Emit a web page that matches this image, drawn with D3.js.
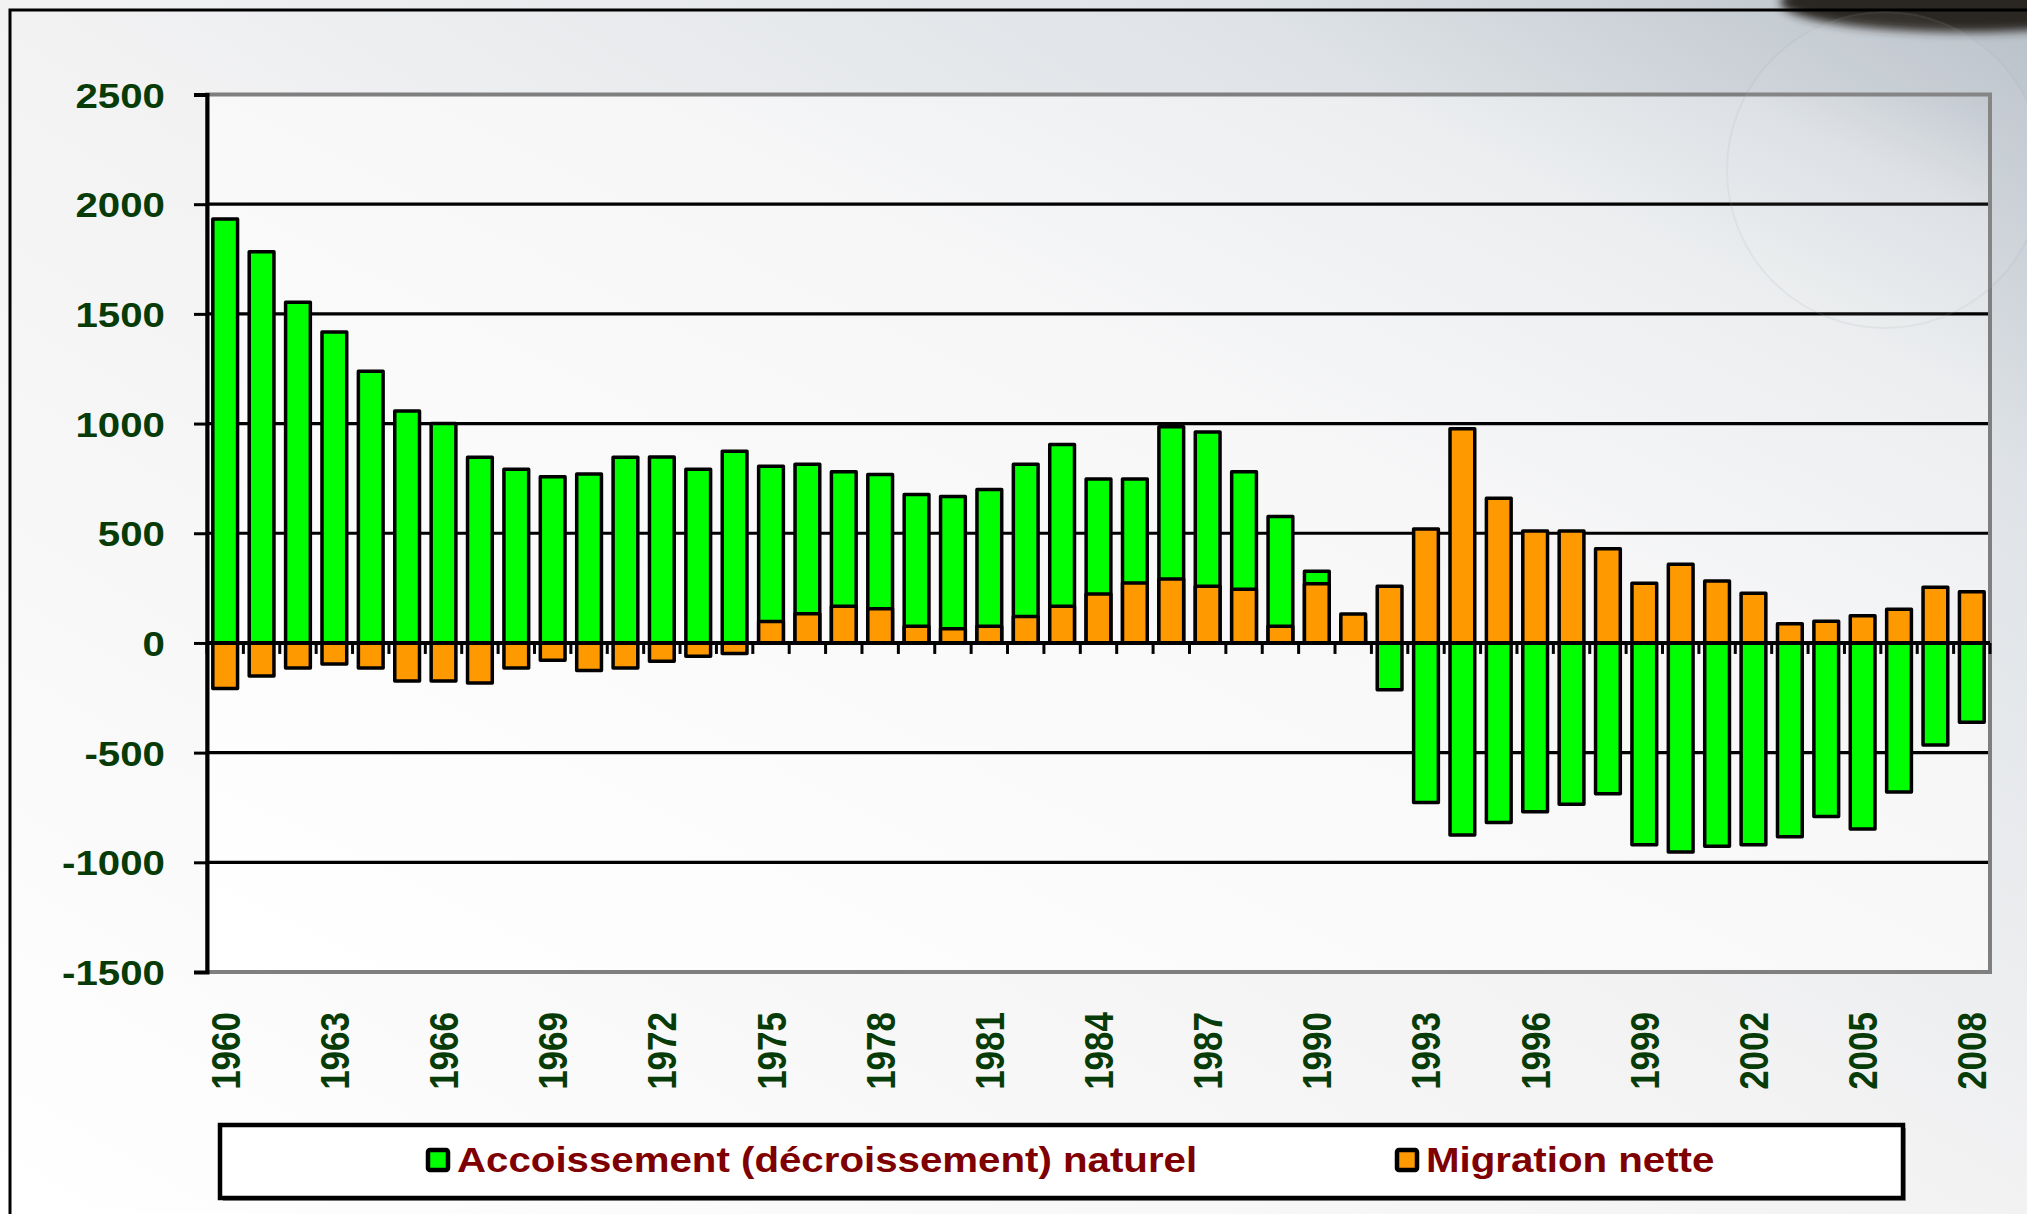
<!DOCTYPE html>
<html>
<head>
<meta charset="utf-8">
<script src="https://cdn.jsdelivr.net/npm/d3@7"></script>
<style>
html, body { margin: 0; padding: 0; background: #fff; overflow: hidden; }
svg { display: block; }
</style>
</head>
<body>
<div id="chart"></div>
<script>
// data (thousands)
const years = [1960, 1961, 1962, 1963, 1964, 1965, 1966, 1967, 1968, 1969,
  1970, 1971, 1972, 1973, 1974, 1975, 1976, 1977, 1978, 1979,
  1980, 1981, 1982, 1983, 1984, 1985, 1986, 1987, 1988, 1989,
  1990, 1991, 1992, 1993, 1994, 1995, 1996, 1997, 1998, 1999,
  2000, 2001, 2002, 2003, 2004, 2005, 2006, 2007, 2008];

const natural = [1932, 1783, 1553, 1417, 1238, 1057, 1000, 847, 792, 757,
  770, 847, 848, 792, 874, 805, 815, 780, 768, 677,
  667, 700, 815, 905, 747, 747, 985, 962, 780, 576,
  327, 100, -213, -727, -875, -819, -770, -735, -688, -920,
  -953, -927, -920, -883, -791, -848, -679, -465, -361];

const migration = [-208, -151, -114, -96, -114, -173, -173, -183, -114, -79,
  -126, -114, -83, -61, -48, 98, 133, 167, 156, 76,
  65, 76, 121, 167, 223, 273, 291, 258, 245, 76,
  270, 132, 258, 519, 976, 659, 510, 510, 429, 272,
  359, 282, 226, 87, 99, 124, 153, 254, 233];

const yTicks = [-1500, -1000, -500, 0, 500, 1000, 1500, 2000, 2500];
const xLabelYears = [1960, 1963, 1966, 1969, 1972, 1975, 1978, 1981, 1984,
  1987, 1990, 1993, 1996, 1999, 2002, 2005, 2008];
const seriesNames = ["Accoissement (décroissement) naturel", "Migration nette"];
const seriesColors = ["#00ff00", "#ff9900"];

var width = 2027;
var height = 1214;
var plot = { left: 207, right: 1990, top: 94.5, bottom: 972 };
var font = "'Liberation Sans', Arial, sans-serif";
var stretch = 1.15; // the picture's text is a bit wide

const svg = d3.select("#chart").append("svg")
  .attr("width", width)
  .attr("height", height);

const defs = svg.append("defs");

function gradient(id, stops) {
  const g = defs.append("linearGradient").attr("id", id)
    .attr("x1", 0).attr("y1", 1).attr("x2", 1).attr("y2", 0);
  stops.forEach(s => g.append("stop").attr("offset", s[0]).attr("stop-color", s[1]));
}
gradient("pageBg", [[0, "#ffffff"], [0.5, "#f2f2f3"], [0.8, "#dfe3e7"], [1, "#b8c0c8"]]);
gradient("plotBg", [[0, "#ffffff"], [0.6, "#f7f7f8"], [0.82, "#eceef0"], [0.93, "#dce0e4"], [1, "#bfc6ce"]]);

defs.append("filter").attr("id", "blur")
  .attr("x", "-50%").attr("y", "-50%").attr("width", "200%").attr("height", "200%")
  .append("feGaussianBlur").attr("stdDeviation", 5);

// background + decoration in the corner
svg.append("rect").attr("width", width).attr("height", height).attr("fill", "url(#pageBg)");
svg.append("ellipse")
  .attr("cx", 1965).attr("cy", 2).attr("rx", 185).attr("ry", 30)
  .attr("fill", "#2a2520").attr("filter", "url(#blur)");

// outer frame
svg.append("rect")
  .attr("x", 10).attr("y", 10).attr("width", width + 50).attr("height", height + 50)
  .attr("fill", "none").attr("stroke", "#000").attr("stroke-width", 3);

const x = d3.scaleBand()
  .domain(years)
  .range([plot.left, plot.right])
  .paddingInner(0.32)
  .paddingOuter(0.16);

const y = d3.scaleLinear()
  .domain([-1500, 2500])
  .range([plot.bottom, plot.top]);

// plot area
svg.append("rect")
  .attr("x", plot.left).attr("y", plot.top)
  .attr("width", plot.right - plot.left).attr("height", plot.bottom - plot.top)
  .attr("fill", "url(#plotBg)")
  .attr("stroke", "#7f7f7f").attr("stroke-width", 4);

// gridlines
svg.append("g")
  .selectAll("line")
  .data(yTicks.filter(v => v !== 0 && v !== 2500 && v !== -1500))
  .join("line")
  .attr("x1", plot.left).attr("x2", plot.right - 2)
  .attr("y1", d => y(d)).attr("y2", d => y(d))
  .attr("stroke", "#000").attr("stroke-width", 3.2);

// bars: natural behind, migration in front (100% overlap)
const rows = years.map((yr, i) => ({ year: yr, natural: natural[i], migration: migration[i] }));

function drawBars(key, color) {
  svg.append("g")
    .selectAll("rect")
    .data(rows)
    .join("rect")
    .attr("x", d => x(d.year))
    .attr("width", x.bandwidth())
    .attr("y", d => y(Math.max(0, d[key])))
    .attr("height", d => Math.abs(y(d[key]) - y(0)))
    .attr("fill", color)
    .attr("stroke", "#000")
    .attr("stroke-width", 3.5)
    .attr("stroke-linejoin", "round");
}
drawBars("natural", seriesColors[0]);
drawBars("migration", seriesColors[1]);

// value axis
const yAxis = svg.append("g")
  .attr("transform", `translate(${plot.left},0)`)
  .call(d3.axisLeft(y).tickValues(yTicks).tickFormat(d => String(d)).tickSize(13).tickPadding(29));
yAxis.select(".domain").attr("stroke", "#000").attr("stroke-width", 4);
yAxis.selectAll(".tick line").attr("stroke", "#000").attr("stroke-width", 3);
yAxis.selectAll(".tick text")
  .attr("x", null).attr("dy", "0.36em")
  .attr("transform", `translate(-42,0) scale(${stretch},1)`)
  .attr("fill", "#073b07")
  .style("font-family", font)
  .style("font-weight", "bold")
  .style("font-size", "35px");

// category axis on the zero line, ticks between categories
const zeroAxis = svg.append("g").attr("transform", `translate(0,${y(0)})`);
zeroAxis.selectAll("line.tick")
  .data(years.concat([null]))
  .join("line")
  .attr("class", "tick")
  .attr("x1", (d, i) => plot.left + i * x.step())
  .attr("x2", (d, i) => plot.left + i * x.step())
  .attr("y1", 0).attr("y2", 11)
  .attr("stroke", "#000").attr("stroke-width", 3);
zeroAxis.append("line")
  .attr("x1", plot.left).attr("x2", plot.right)
  .attr("stroke", "#000").attr("stroke-width", 4);

// year labels under the plot
const xAxis = svg.append("g")
  .attr("transform", `translate(0,${plot.bottom})`)
  .call(d3.axisBottom(x).tickValues(xLabelYears).tickSize(0));
xAxis.select(".domain").remove();
xAxis.selectAll(".tick text")
  .attr("y", null).attr("dy", "0.36em")
  .attr("transform", `translate(0,40) scale(${stretch},1) rotate(-90)`)
  .attr("text-anchor", "end")
  .attr("fill", "#073b07")
  .style("font-family", font)
  .style("font-weight", "bold")
  .style("font-size", "35px");

// legend
const legend = svg.append("g");
legend.append("rect")
  .attr("x", 223).attr("y", 1128).attr("width", 1683).attr("height", 73)
  .attr("fill", "#9a9a9a");
legend.append("rect")
  .attr("x", 220).attr("y", 1125).attr("width", 1683).attr("height", 73)
  .attr("fill", "#fff").attr("stroke", "#000").attr("stroke-width", 4.5);

const legendX = [428, 1397];
const items = legend.selectAll("g.item")
  .data(seriesNames)
  .join("g")
  .attr("class", "item")
  .attr("transform", (d, i) => `translate(${legendX[i]},1150)`);
items.append("rect")
  .attr("width", 20).attr("height", 20)
  .attr("rx", 2)
  .attr("fill", (d, i) => seriesColors[i])
  .attr("stroke", "#000").attr("stroke-width", 4.5);
items.append("text")
  .attr("transform", `translate(29,22) scale(${stretch},1)`)
  .attr("fill", "#7f0000")
  .style("font-family", font)
  .style("font-weight", "bold")
  .style("font-size", "35px")
  .text(d => d);

// faint glass sphere in the corner
svg.append("circle")
  .attr("cx", 1885).attr("cy", 170).attr("r", 158)
  .attr("fill", "#ffffff").attr("fill-opacity", 0.05)
  .attr("stroke", "#9aa3ac").attr("stroke-opacity", 0.12).attr("stroke-width", 2);
</script>
</body>
</html>
